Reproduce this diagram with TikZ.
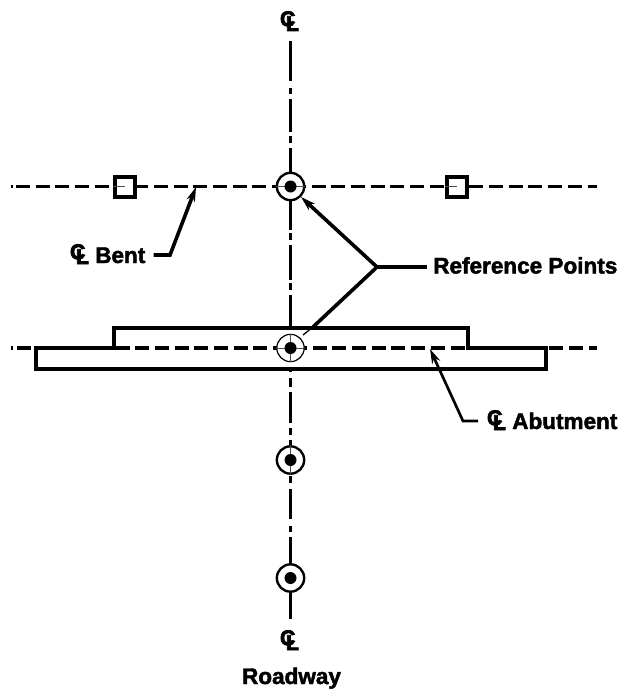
\documentclass[tikz,border=0pt]{standalone}
\usepackage{fontspec}
\setmainfont[BoldFeatures={FakeBold=2}]{Liberation Sans}
\newfontfamily\clfont[FakeBold=3.5]{Liberation Sans Bold}
\usetikzlibrary{arrows.meta}
\newcommand{\clsym}{{\fontsize{16}{16}\clfont\selectfont\rlap{\hspace{-0.8pt}\raisebox{3.6pt}{C}}\hspace{3.6pt}L}}
\tikzset{
  x=0.75pt,y=-0.75pt,
  lbl/.style={font=\fontsize{16.9}{17}\bfseries\selectfont,inner sep=0pt,anchor=base west},
  clmark/.style={inner sep=0pt,anchor=base},
  dashline/.style={line width=2.5pt,dash pattern=on 10.5pt off 4.28pt},
  center/.style={line width=2.6pt},
  thinl/.style={line width=0.45pt,black!70},
  rp/.style={circle,draw,fill=white,line width=1.8pt,minimum size=20.5pt,inner sep=0pt},
  rpthin/.style={rp,line width=0.9pt},
  dot/.style={circle,fill=black,minimum size=9pt,inner sep=0pt},
  sq/.style={rectangle,draw,fill=white,line width=3pt,minimum size=15pt,inner sep=0pt},
  leader/.style={line width=2.7pt},
  head/.style={-{Stealth[length=11pt,width=6.5pt]}},
}
\begin{document}
\begin{tikzpicture}
\useasboundingbox (0,0) rectangle (621,692);
\coordinate (hAL) at (10.5,186.5);
\coordinate (hAS) at (16,186.5);
\coordinate (hAR) at (597,186.5);
\coordinate (hBL) at (10.5,348);
\coordinate (hBS) at (17,348);
\coordinate (hBR) at (597,348);
% dashed centre lines
\draw[line width=2.5pt] (hAL) -- ++(2,0);
\draw[line width=2.5pt] (hBL) -- ++(2,0);
\draw[dashline] (hAS) -- (hAR);
\draw[dashline] (hBS) -- (hBR);
% roadway centre line
\foreach \a/\b in {41/81,88/94,99/132,136/143,148/173,199/230,233/240,245/280,283/290,295/327,369/372,378/387,392/423,428/435,440/447,476/483,489/519,526/532,537/567,590/619}
  \draw[center] (290.5,\a) -- (290.5,\b);
% abutment
\draw[line width=3pt] (36,348) -- (36,369) -- (546,369) -- (546,348) -- (468,348) -- (468,327.5) -- (114,327.5) -- (114,348) -- cycle;
% squares
\node[sq] (s1) at (125,186.5) {};
\node[sq] (s2) at (456.5,186.5) {};
\draw[thinl] (s1.west) -- (s1.center);
\draw[thinl] (s2.west) -- (s2.center);
% reference points
\node[rp] (p1) at (290.5,186.5) {};
\node[rpthin] (p2) at (290.5,348) {};
\node[rp] (p3) at (290.5,460) {};
\node[rp] (p4) at (290.5,578) {};
\draw[thinl] (p1.west) -- (p1.east);
\draw[thinl] (p2.north) -- (p2.south);
\draw[thinl] (p2.west) -- (p2.east);
\draw[thinl] (p3.north) -- (p3.south);
\foreach \p in {p1,p2,p3,p4}
  \node[dot] at (\p) {};
\node[lbl] (ref) at (433,273.5) {Reference Points};
\node[lbl] (bent) at (95,263) {Bent};
\node[lbl] (abut) at (512,429) {Abutment};
\node[lbl,anchor=base] (road) at (291.5,684) {Roadway};
\node[clmark] (cl1) at (290,31) {\clsym};
\node[clmark] (cl2) at (290,650) {\clsym};
\node[clmark] (cl3) at (80,264) {\clsym};
\node[clmark] (cl4) at (497,430) {\clsym};
% leaders
\coordinate (j) at (377,267);
\coordinate (bentE) at (170,255);
\coordinate (bentT) at (196,187);
\coordinate (abE) at (463,421);
\coordinate (abT) at (430,349);
\coordinate (lowT) at (303,335);
\coordinate (lowM) at (313,327);
\draw[leader] (ref.west |- j) ++(-6,0) -- (j);
\draw[leader,head] (j) -- (p1.south east);
\draw[leader] (j) -- (lowM);
\draw[line width=1pt] (lowM) -- (lowT);
\draw[leader,head] (bent.east |- bentE) ++(8,0) -- (bentE) -- (bentT);
\draw[line width=2pt,head] (abut.west |- abE) ++(-34,0) -- (abE) -- (abT);
\end{tikzpicture}
\end{document}
